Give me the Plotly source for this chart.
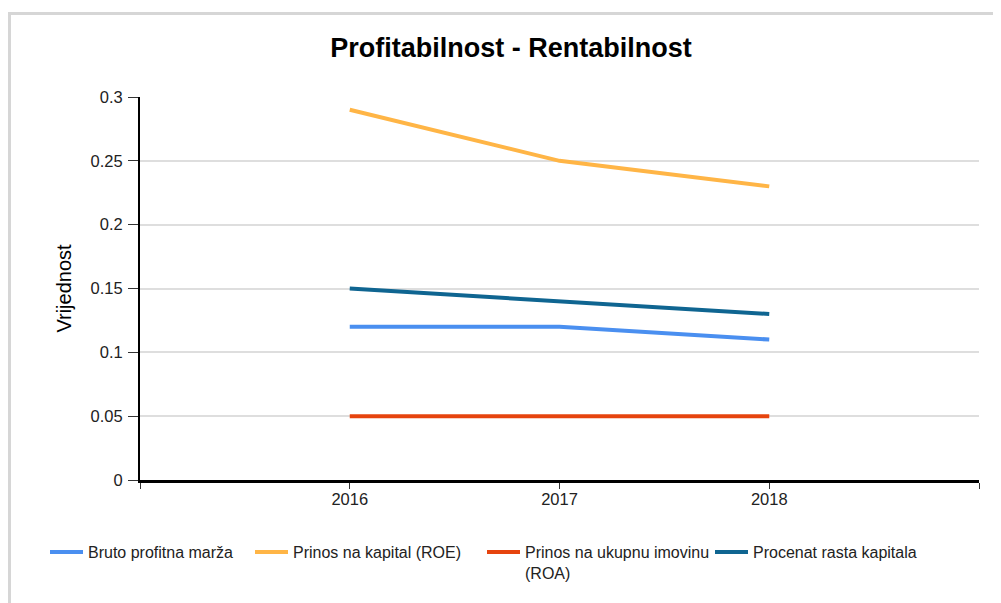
"""Profitabilnost - Rentabilnost line chart."""

import plotly.graph_objects as go

years = [2016, 2017, 2018]
axis_years = [2015, 2016, 2017, 2018, 2019]
axis_labels = ["", "2016", "2017", "2018", ""]

bruto_marza = [0.12, 0.12, 0.11]
roe = [0.29, 0.25, 0.23]
roa = [0.05, 0.05, 0.05]
rast_kapitala = [0.15, 0.14, 0.13]

y_ticks = [0, 0.05, 0.1, 0.15, 0.2, 0.25, 0.3]
y_labels = ["0", "0.05", "0.1", "0.15", "0.2", "0.25", "0.3"]

series = [
    ("Bruto profitna marža", bruto_marza, "#4a8ff0"),
    ("Prinos na kapital (ROE)", roe, "#ffb546"),
    ("Prinos na ukupnu imovinu<br>(ROA)", roa, "#e6440e"),
    ("Procenat rasta kapitala", rast_kapitala, "#0f6591"),
]

# page has an 8px body margin, so the figure is 993x595 starting at (8, 8)
W, H = 993, 595
legend_left = [50, 255, 487, 715]  # page x of each legend symbol

fig = go.Figure()
legends = {}
for i, (name, values, color) in enumerate(series):
    key = "legend" if i == 0 else f"legend{i + 1}"
    fig.add_trace(go.Scatter(
        x=years, y=values, name=name, mode="lines",
        line=dict(color=color, width=4), legend=key,
    ))
    legends[key] = dict(
        orientation="h", x=(legend_left[i] - 8 - 5) / W, xref="container",
        y=1 - (535 - 8) / H, yref="container",
        xanchor="left", yanchor="top", valign="top",
        font=dict(size=16, color="#222222"), itemwidth=33,
        bgcolor="rgba(0,0,0,0)",
    )

fig.update_layout(
    width=W, height=H,
    margin=dict(l=132, r=22, t=89, b=123),
    paper_bgcolor="white", plot_bgcolor="white",
    font=dict(family="Liberation Sans, Arial, sans-serif", size=15, color="#222222"),
    title=dict(
        text="<b>Profitabilnost - Rentabilnost</b>",
        x=(511 - 8) / W, xref="container", xanchor="center",
        y=1 - (48 - 8) / H, yref="container", yanchor="middle",
        font=dict(size=27, color="#000000"),
    ),
    showlegend=True,
    shapes=[dict(
        type="rect", xref="paper", yref="paper",
        x0=(9.5 - 140) / 839, x1=1.2, y0=-0.6, y1=1 + (97 - 13.5) / 383,
        line=dict(color="#d6d6d6", width=3), layer="below",
    )],
    **legends,
)

fig.update_xaxes(
    range=[2015, 2019], tickvals=axis_years, ticktext=axis_labels,
    showgrid=False, zeroline=False,
    showline=True, linecolor="#000000", linewidth=3,
    ticks="outside", ticklen=6, tickcolor="#333333", tickwidth=1,
    tickfont=dict(size=16.5, color="#222222"), ticklabelstandoff=-4,
)
fig.update_yaxes(
    range=[0, 0.3], tickvals=y_ticks, ticktext=y_labels,
    showgrid=True, gridcolor="#dedede", gridwidth=2, zeroline=False,
    showline=True, linecolor="#000000", linewidth=2,
    ticks="outside", ticklen=10, tickcolor="#333333", tickwidth=1,
    tickfont=dict(size=16.5, color="#222222"), ticklabelstandoff=2,
    title=dict(text="Vrijednost", font=dict(size=20, color="#000000"), standoff=14),
)

fig.write_html("out.html")
